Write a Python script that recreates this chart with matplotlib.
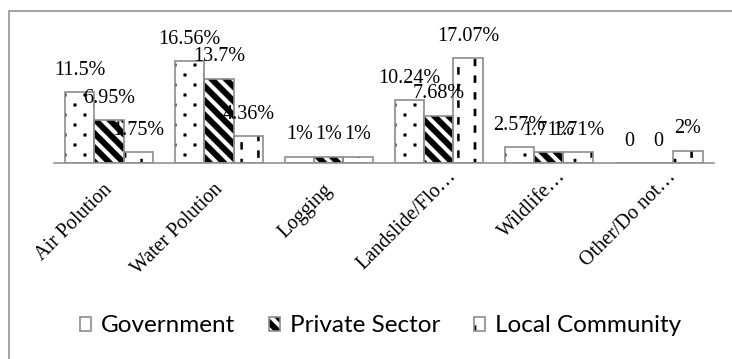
import numpy as np
import matplotlib
matplotlib.use("Agg")
import matplotlib.pyplot as plt
import matplotlib.hatch as mhatch
from matplotlib.patches import Rectangle
from matplotlib.path import Path

# ---- data -------------------------------------------------------------
categories = ["Air Polution", "Water Polution", "Logging",
              "Landslide/Flo\u2026", "Wildlife\u2026", "Other/Do not\u2026"]
government = [11.5, 16.56, 1, 10.24, 2.57, 0]
private_sector = [6.95, 13.7, 1, 7.68, 1.71, 0]
local_community = [1.75, 4.36, 1, 17.07, 1.71, 2]
series_names = ["Government", "Private Sector", "Local Community"]


# ---- fill patterns (unit cell = 1 inch) ---------------------------------
def _rect(cx, cy, w, h):
    return [(cx - w / 2, cy - h / 2), (cx + w / 2, cy - h / 2),
            (cx + w / 2, cy + h / 2), (cx - w / 2, cy + h / 2), (0, 0)]


_RECT_CODES = [Path.MOVETO, Path.LINETO, Path.LINETO, Path.LINETO, Path.CLOSEPOLY]


class DotLattice(mhatch.HatchPatternBase):
    """Staggered grid of small square dots ('.')."""
    cols, rows, size = 5, 10, 0.025

    def __init__(self, hatch, density):
        self.pts = []
        if hatch.count('.'):
            for r in range(self.rows):
                for c in range(self.cols):
                    x = (c + 0.25 + 0.5 * (r % 2)) / self.cols
                    y = (r + 0.5) / self.rows
                    self.pts.append((x, y))
        self.num_vertices = 5 * len(self.pts)

    def set_vertices_and_codes(self, vertices, codes):
        for i, (x, y) in enumerate(self.pts):
            vertices[5 * i:5 * i + 5] = _rect(x, y, self.size, self.size)
            codes[5 * i:5 * i + 5] = _RECT_CODES


class DiagonalBands(mhatch.HatchPatternBase):
    """Thick bands running from upper left to lower right ('\\')."""
    per_unit, fill = 7, 0.55

    def __init__(self, hatch, density):
        self.offsets = []
        if hatch.count('\\'):
            p = 1.0 / self.per_unit
            self.offsets = [k * p for k in range(-1, 2 * self.per_unit + 1)]
        self.num_vertices = 5 * len(self.offsets)

    def set_vertices_and_codes(self, vertices, codes):
        w = self.fill / self.per_unit
        for i, c in enumerate(self.offsets):
            vertices[5 * i:5 * i + 5] = [(-1, c + 1), (2, c - 2), (2, c - 2 + w),
                                         (-1, c + 1 + w), (0, 0)]
            codes[5 * i:5 * i + 5] = _RECT_CODES


class VerticalDashes(mhatch.HatchPatternBase):
    """Staggered columns of short vertical dashes ('|')."""
    cols, rows, w, h = 6, 6, 0.022, 0.07

    def __init__(self, hatch, density):
        self.pts = []
        if hatch.count('|'):
            for c in range(self.cols):
                for r in range(self.rows):
                    x = (c + 0.5) / self.cols
                    y = (r + 0.25 + 0.5 * (c % 2)) / self.rows
                    self.pts.append((x, y))
        self.num_vertices = 5 * len(self.pts)

    def set_vertices_and_codes(self, vertices, codes):
        for i, (x, y) in enumerate(self.pts):
            vertices[5 * i:5 * i + 5] = _rect(x, y, self.w, self.h)
            codes[5 * i:5 * i + 5] = _RECT_CODES


_types = mhatch._hatch_types
_types[_types.index(mhatch.SmallFilledCircles)] = DotLattice
_types[_types.index(mhatch.SouthEastHatch)] = DiagonalBands
_types[_types.index(mhatch.VerticalHatch)] = VerticalDashes
plt.rcParams['hatch.linewidth'] = 0.3

# ---- figure -------------------------------------------------------------
W, H, DPI = 732, 359, 100
fig = plt.figure(figsize=(W / DPI, H / DPI), dpi=DPI)
fig.patch.set_facecolor("white")

x0_px, x1_px = 54, 713.5
base_px, top_px = 163, 40
ax = fig.add_axes([x0_px / W, (H - base_px) / H,
                   (x1_px - x0_px) / W, (base_px - top_px) / H])
ax.set_xlim(-0.5, len(categories) - 0.5)
ax.set_ylim(0, 20)
for s in ("top", "left", "right"):
    ax.spines[s].set_visible(False)
ax.spines["bottom"].set_color("#8a8a8a")
ax.spines["bottom"].set_linewidth(1.1)
ax.set_yticks([])
ax.set_xticks([])

serif = ["Liberation Serif", "DejaVu Serif"]
edge_gray = "#8c8c8c"
bar_w = 0.267
x = np.arange(len(categories))
series = [government, private_sector, local_community]
hatches = [".", "\\", "|"]
handles = []
for k, (vals, hatch) in enumerate(zip(series, hatches)):
    pos = x + (k - 1) * bar_w
    fill = ax.bar(pos, vals, bar_w, facecolor="white", edgecolor="black",
                  linewidth=0, hatch=hatch, zorder=2)
    outline = ax.bar(pos, vals, bar_w, fill=False, edgecolor=edge_gray,
                     linewidth=1.2, zorder=3)
    handles.append((fill, outline))
    for xi, v in zip(pos, vals):
        txt = f"{v:g}%" if v else "0"
        ax.annotate(txt, xy=(xi, v), xytext=(0, 22), textcoords="offset pixels",
                    ha="center", va="center", fontsize=14.5, family=serif,
                    color="black", annotation_clip=False, zorder=5)

# rotated category labels
for i, name in enumerate(categories):
    dx, dy = (18, -14) if name.endswith("\u2026") else (4, -27)
    ax.annotate(name, xy=(i, 0), xytext=(dx, dy), textcoords="offset pixels",
                rotation=45, rotation_mode="anchor", ha="right", va="baseline",
                fontsize=14.5, family=serif, color="black", annotation_clip=False)

# legend
leg = fig.legend(handles, series_names, loc="center",
                 bbox_to_anchor=(380.5 / W, 1 - 326 / H), ncol=3, frameon=False,
                 prop={"family": ["Lato", "DejaVu Sans"], "size": 17.5},
                 handlelength=0.45, handleheight=0.55, handletextpad=0.41,
                 columnspacing=1.4)

# outer chart frame
fig.add_artist(Rectangle((9 / W, -0.2), 1.2, (H - 11) / H + 0.2,
                         transform=fig.transFigure, fill=False,
                         edgecolor="#8c8c8c", linewidth=1.1, clip_on=False))

fig.savefig("out.png", dpi=DPI, facecolor="white")
